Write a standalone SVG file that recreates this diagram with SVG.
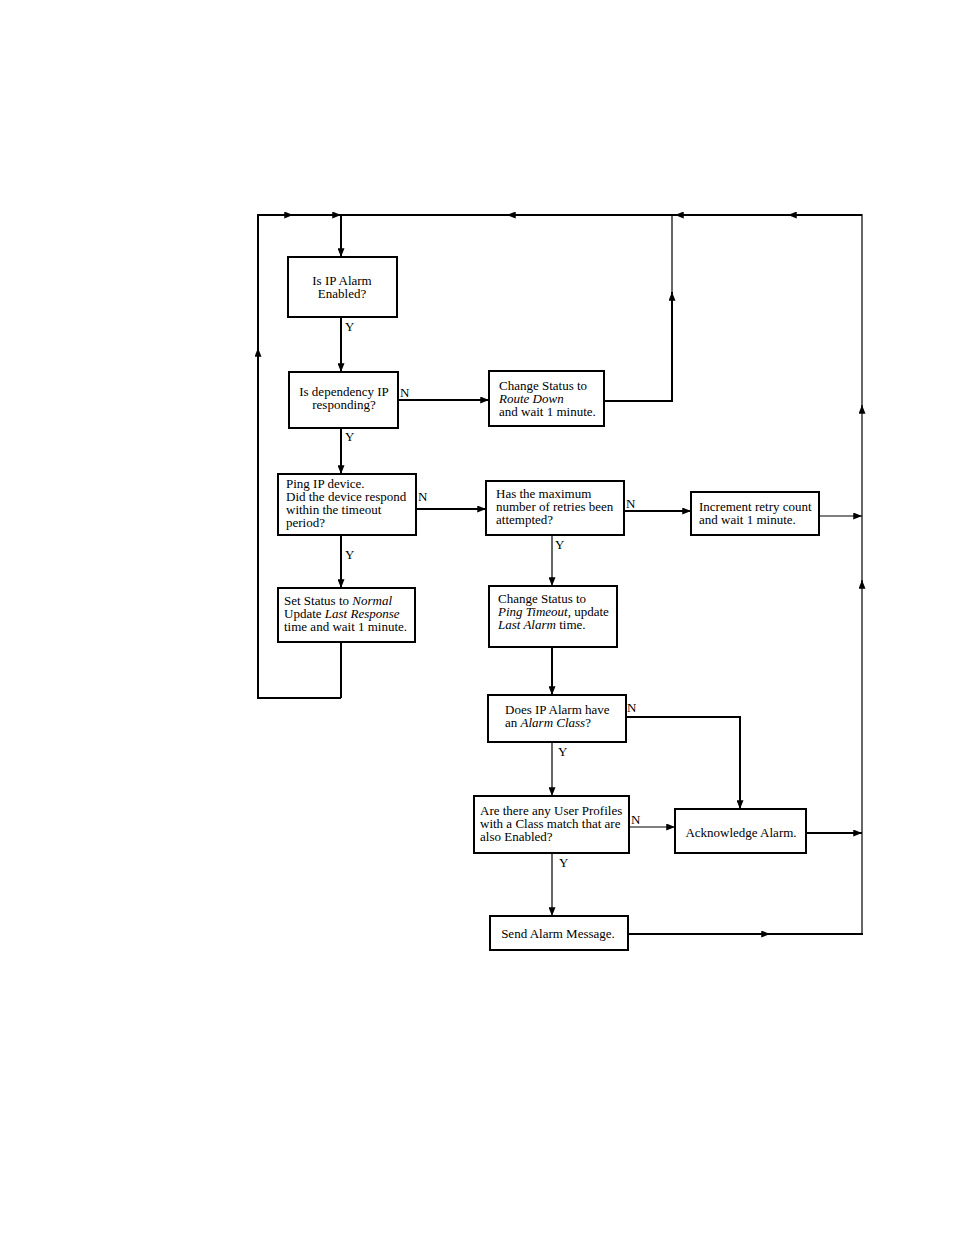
<svg xmlns="http://www.w3.org/2000/svg" width="954" height="1235" viewBox="0 0 954 1235">
<defs>
<style>
.box{fill:#fff;stroke:#000;stroke-width:2}
.t{font-family:"Liberation Serif","Times New Roman",serif;font-size:13px;fill:#000}
.c{text-anchor:middle}
.k{stroke:#000;stroke-width:2;fill:none}
.n{stroke:#000;stroke-width:1.2;fill:none}
</style>
<marker id="a" viewBox="0 0 10 8" refX="10" refY="4" markerUnits="userSpaceOnUse" markerWidth="9" markerHeight="7" orient="auto">
<path d="M0,0 L10,4 L0,8 Z" fill="#000"/>
</marker>
</defs>
<rect width="954" height="1235" fill="#fff"/>
<g id="connectors">
<path class="k" d="M341,698 L258,698 L258,348" marker-end="url(#a)"/>
<path class="k" d="M258,350 L258,215 L293,215" marker-end="url(#a)"/>
<path class="k" d="M291,215 L341,215" marker-end="url(#a)"/>
<path class="k" d="M862,215 L788,215" marker-end="url(#a)"/>
<path class="k" d="M790,215 L675,215" marker-end="url(#a)"/>
<path class="k" d="M677,215 L507,215" marker-end="url(#a)"/>
<path class="k" d="M509,215 L340,215"/>
<path class="k" d="M341,214 L341,257" marker-end="url(#a)"/>
<path class="k" d="M341,642 L341,698"/>
<path class="n" d="M862,934 L862,580" marker-end="url(#a)"/>
<path class="n" d="M862,582 L862,405" marker-end="url(#a)"/>
<path class="n" d="M862,407 L862,214"/>
<path class="k" d="M341,317 L341,372" marker-end="url(#a)"/>
<path class="k" d="M398,400 L489,400" marker-end="url(#a)"/>
<path class="k" d="M604,401 L672,401 L672,292" marker-end="url(#a)"/>
<path class="n" d="M672,294 L672,215"/>
<path class="k" d="M341,428 L341,474" marker-end="url(#a)"/>
<path class="k" d="M416,509 L486,509" marker-end="url(#a)"/>
<path class="k" d="M624,511 L691,511" marker-end="url(#a)"/>
<path class="n" d="M819,516 L862,516" marker-end="url(#a)"/>
<path class="k" d="M341,535 L341,588" marker-end="url(#a)"/>
<path class="n" d="M552,535 L552,586" marker-end="url(#a)"/>
<path class="k" d="M552,647 L552,695" marker-end="url(#a)"/>
<path class="k" d="M626,717 L740,717 L740,809" marker-end="url(#a)"/>
<path class="n" d="M552,742 L552,796" marker-end="url(#a)"/>
<path class="n" d="M629,827 L675,827" marker-end="url(#a)"/>
<path class="k" d="M806,833 L862,833" marker-end="url(#a)"/>
<path class="n" d="M552,853 L552,916" marker-end="url(#a)"/>
<path class="k" d="M628,934 L770,934" marker-end="url(#a)"/>
<path class="k" d="M768,934 L863,934"/>
<text class="t" x="345" y="331">Y</text>
<text class="t" x="400" y="397">N</text>
<text class="t" x="345" y="441">Y</text>
<text class="t" x="418" y="501">N</text>
<text class="t" x="626" y="508">N</text>
<text class="t" x="345" y="559">Y</text>
<text class="t" x="555" y="549">Y</text>
<text class="t" x="627" y="712">N</text>
<text class="t" x="558" y="756">Y</text>
<text class="t" x="631" y="824">N</text>
<text class="t" x="559" y="867">Y</text>
</g>
<g id="n1"><rect class="box" x="288" y="257" width="109" height="60"/>
<text class="t c" x="342" y="285">Is IP Alarm</text><text class="t c" x="342" y="298">Enabled?</text></g>
<g id="n2"><rect class="box" x="289" y="372" width="109" height="56"/>
<text class="t c" x="344" y="396">Is dependency IP</text><text class="t c" x="344" y="409">responding?</text></g>
<g id="n3"><rect class="box" x="489" y="371" width="115" height="55"/>
<text class="t" x="499" y="390">Change Status to</text><text class="t" x="499" y="403" font-style="italic">Route Down</text><text class="t" x="499" y="416">and wait 1 minute.</text></g>
<g id="n4"><rect class="box" x="278" y="474" width="138" height="61"/>
<text class="t" x="286" y="488">Ping IP device.</text><text class="t" x="286" y="501">Did the device respond</text><text class="t" x="286" y="514">within the timeout</text><text class="t" x="286" y="527">period?</text></g>
<g id="n5"><rect class="box" x="486" y="481" width="138" height="54"/>
<text class="t" x="496" y="498">Has the maximum</text><text class="t" x="496" y="511">number of retries been</text><text class="t" x="496" y="524">attempted?</text></g>
<g id="n6"><rect class="box" x="691" y="492" width="128" height="43"/>
<text class="t" x="699" y="511">Increment retry count</text><text class="t" x="699" y="524">and wait 1 minute.</text></g>
<g id="n7"><rect class="box" x="278" y="588" width="137" height="54"/>
<text class="t" x="284" y="605">Set Status to <tspan font-style="italic">Normal</tspan></text><text class="t" x="284" y="618">Update <tspan font-style="italic">Last Response</tspan></text><text class="t" x="284" y="631">time and wait 1 minute.</text></g>
<g id="n8"><rect class="box" x="489" y="586" width="128" height="61"/>
<text class="t" x="498" y="603">Change Status to</text><text class="t" x="498" y="616"><tspan font-style="italic">Ping Timeout</tspan>, update</text><text class="t" x="498" y="629"><tspan font-style="italic">Last Alarm</tspan> time.</text></g>
<g id="n9"><rect class="box" x="488" y="695" width="138" height="47"/>
<text class="t" x="505" y="714">Does IP Alarm have</text><text class="t" x="505" y="727">an <tspan font-style="italic">Alarm Class</tspan>?</text></g>
<g id="n10"><rect class="box" x="474" y="796" width="155" height="57"/>
<text class="t" x="480" y="815">Are there any User Profiles</text><text class="t" x="480" y="828">with a Class match that are</text><text class="t" x="480" y="841">also Enabled?</text></g>
<g id="n11"><rect class="box" x="675" y="809" width="131" height="44"/>
<text class="t c" x="741" y="837">Acknowledge Alarm.</text></g>
<g id="n12"><rect class="box" x="490" y="916" width="138" height="34"/>
<text class="t c" x="558" y="938">Send Alarm Message.</text></g>
</svg>
